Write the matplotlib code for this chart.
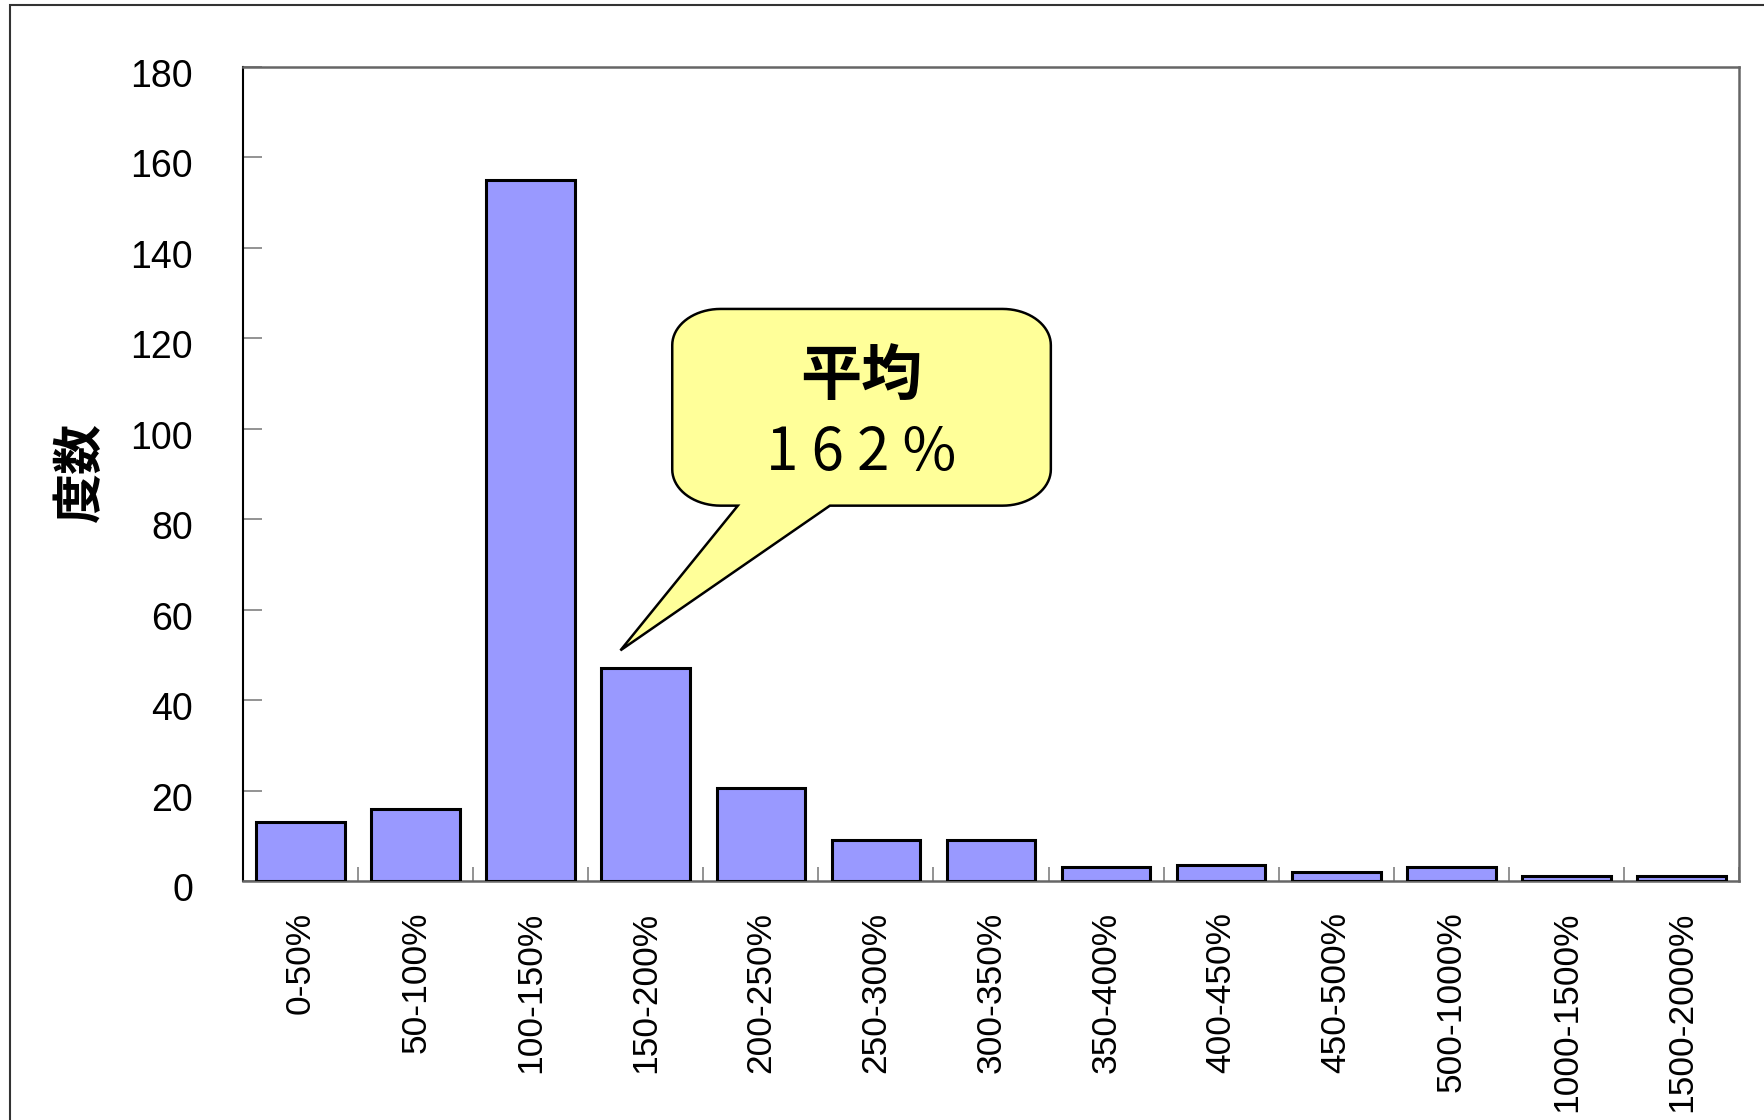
import numpy as np
import matplotlib
matplotlib.use("Agg")
import matplotlib.pyplot as plt
from matplotlib.patches import Polygon, Rectangle
from matplotlib.transforms import ScaledTranslation

categories = ["0-50%", "50-100%", "100-150%", "150-200%", "200-250%", "250-300%",
              "300-350%", "350-400%", "400-450%", "450-500%", "500-1000%",
              "1000-1500%", "1500-2000%"]
counts = [13, 16, 155, 47, 20.5, 9, 9, 3, 3.5, 2, 3, 1, 1]
yticks = [0, 20, 40, 60, 80, 100, 120, 140, 160, 180]
ylabel = "度数"
callout_title = "平均"
callout_value = "1 6 2 %"

W, H = 1764, 1120
fig = plt.figure(figsize=(W / 100, H / 100), dpi=100)
fig.patch.set_facecolor("white")

# outer frame (cropped on right/bottom)
fig.patches.append(Rectangle((10 / W, -0.2), 1.5, 1.2 - 5 / H, transform=fig.transFigure,
                             fill=False, edgecolor="#333333", linewidth=1.5))

ax = fig.add_axes([243 / W, 1 - 881 / H, (1739 - 243) / W, (881 - 67) / H])
x = np.arange(len(categories))
ax.bar(x, counts, width=0.77, color="#9999FF", edgecolor="black", linewidth=2.2, zorder=3)

ax.set_xlim(-0.5, len(categories) - 0.5)
ax.set_ylim(0, 180)
ax.set_yticks(yticks)
ax.set_yticklabels([str(v) for v in yticks], fontsize=27, family="Liberation Sans")
ax.tick_params(axis="y", direction="in", length=14, width=1.2, color="#808080", pad=36)
for lab in ax.get_yticklabels():
    lab.set_transform(lab.get_transform() + ScaledTranslation(0, -6 / 100, fig.dpi_scale_trans))

ax.set_xticks(x)
ax.set_xticklabels(categories, rotation=90, fontsize=25.5, family="Liberation Sans")
ax.tick_params(axis="x", which="major", length=0, pad=22)
ax.set_xticks(np.arange(len(categories) + 1) - 0.5, minor=True)
ax.tick_params(axis="x", which="minor", direction="in", length=10, width=1.2, color="#808080")

ax.spines["left"].set_color("black")
ax.spines["left"].set_linewidth(1.5)
for s in ["top", "right", "bottom"]:
    ax.spines[s].set_color("#666666")
    ax.spines[s].set_linewidth(1.8)

fig.text(80 / W, 1 - 472 / H, ylabel, rotation=90, ha="center", va="center",
         fontsize=36, fontweight="bold", family=["Noto Sans CJK JP", "DejaVu Sans"])

# callout (speech bubble) in data coordinates
x0, x1 = 3.23, 6.52
y0, y1 = 83.0, 126.5
rx, ry = 0.42, 8.0
tip = (2.78, 51.0)
base_l, base_r = 3.80, 4.60

def arc(cx, cy, a0, a1, n=20):
    t = np.linspace(np.radians(a0), np.radians(a1), n)
    return list(zip(cx + rx * np.cos(t), cy + ry * np.sin(t)))

pts = []
pts += arc(x0 + rx, y1 - ry, 90, 180)       # top-left
pts += arc(x0 + rx, y0 + ry, 180, 270)      # bottom-left
pts += [(base_l, y0), tip, (base_r, y0)]
pts += arc(x1 - rx, y0 + ry, 270, 360)      # bottom-right
pts += arc(x1 - rx, y1 - ry, 0, 90)         # top-right
bubble = Polygon(pts, closed=True, facecolor="#FFFF99", edgecolor="black",
                 linewidth=1.8, zorder=5, clip_on=False)
ax.add_patch(bubble)

cx = (x0 + x1) / 2
ax.text(cx, 111.5, callout_title, ha="center", va="center", fontsize=44, fontweight="bold",
        family=["Noto Sans CJK JP", "DejaVu Sans"], zorder=6)
ax.text(cx, 94.5, callout_value, ha="center", va="center", fontsize=42,
        family=["Noto Sans CJK JP", "DejaVu Sans"], zorder=6)

fig.savefig("out.png", dpi=100)
